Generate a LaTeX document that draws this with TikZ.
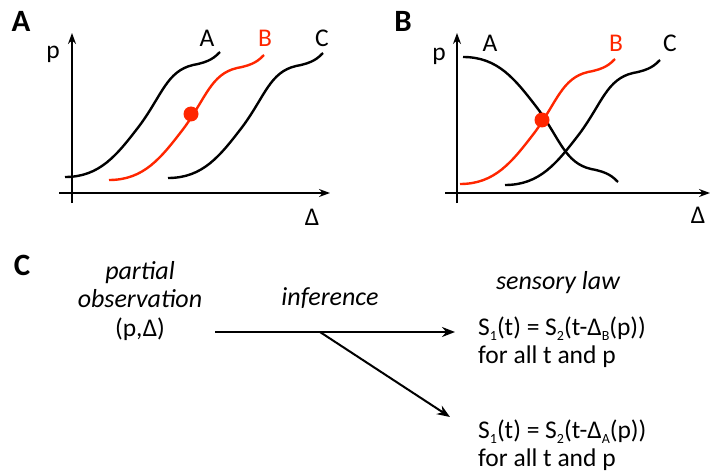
\documentclass[tikz,border=0pt]{standalone}
\usepackage{fontspec}
\setmainfont{Carlito}
\usepackage{tikz}
\usetikzlibrary{arrows.meta, positioning}
\definecolor{curvered}{RGB}{255,38,0}
\newcommand{\lowsub}[1]{\raisebox{-0.22em}{\fontsize{14}{14}\selectfont #1}}

\tikzset{
  sigmoid/.pic={
    \draw[line width=2.4pt, pic actions] (0,0) .. controls (35,0) and (52,-22) .. (75,-52)
      .. controls (97,-82) and (102,-106) .. (128,-112)
      .. controls (145,-115) and (150,-120) .. (155,-125);
  }
}

\begin{document}
\begin{tikzpicture}[
  x=1pt, y=-1pt,
  font=\fontsize{25.5}{29}\selectfont,
  axis/.style={line width=1.3pt, -{Stealth[length=11pt, width=8pt]}},
  panel/.style={font=\fontsize{31}{32}\selectfont\bfseries, anchor=base, inner sep=0pt},
  lbl/.style={anchor=base, inner sep=0pt},
  slanted/.style={lbl, font=\fontsize{26}{29}\selectfont\itshape},
  law/.style={anchor=base west, inner sep=0pt},
  arrow/.style={line width=2pt, -{Stealth[length=13pt, width=10pt]}},
  dot/.style={circle, fill=curvered, minimum size=15pt, inner sep=0pt}
]
  \useasboundingbox (0,0) rectangle (711,473);

  % Panel A
  \node[panel] (labA) at (21,32) {A};
  \draw[axis] (72,203) -- (72,33);
  \draw[axis] (59,193) -- (330,193);
  \node[lbl] (pA) at (53,59) {p};
  \node[lbl] (dA) at (312,225) {Δ};

  \pic at (65,177) {sigmoid};
  \pic[curvered] at (109,180) {sigmoid};
  \pic at (168,178) {sigmoid};
  \node[dot] (hitA) at (191,114) {};

  \node[lbl] (curveA1) at (207,47) {A};
  \node[lbl, text=curvered] (curveB1) at (265,47) {B};
  \node[lbl] (curveC1) at (322,47) {C};

  % Panel B
  \node[panel] (labB) at (403,32) {B};
  \draw[axis] (457,203) -- (457,33);
  \draw[axis] (445,193) -- (710,193);
  \node[lbl] (pB) at (439,61) {p};
  \node[lbl] (dB) at (698,223) {Δ};

  \pic[yscale=-1] at (463,57) {sigmoid};
  \pic[curvered] at (460,184) {sigmoid};
  \pic at (505,185) {sigmoid};
  \node[dot] (hitB) at (542,120) {};

  \node[lbl] (curveA2) at (490,52) {A};
  \node[lbl, text=curvered] (curveB2) at (616,52) {B};
  \node[lbl] (curveC2) at (670,52) {C};

  % Panel C
  \node[panel] (labC) at (22,275) {C};
  \node[slanted] (partial) at (140,279) {partial};
  \node[slanted] (observation) at (140,307) {observation};
  \node[lbl] (obs) at (140,336) {(p,Δ)};
  \node[slanted] (inference) at (330,305) {inference};
  \node[slanted] (sensory) at (558,289) {sensory law};

  \node[law] (lawB) at (478,335) {S\lowsub{1}(t) = S\lowsub{2}(t-Δ\lowsub{B}(p))};
  \node[law] (allB) at (478,363) {for all t and p};
  \node[law] (lawA) at (478,438) {S\lowsub{1}(t) = S\lowsub{2}(t-Δ\lowsub{A}(p))};
  \node[law] (allA) at (478,466) {for all t and p};

  \coordinate (start) at (215,332);
  \coordinate (fork) at (320,332);
  \coordinate (tipB) at (455,332);
  \coordinate (tipA) at (450,417);

  \draw[arrow] (start) -- (tipB);
  \draw[arrow] (fork) -- (tipA);

\end{tikzpicture}
\end{document}
